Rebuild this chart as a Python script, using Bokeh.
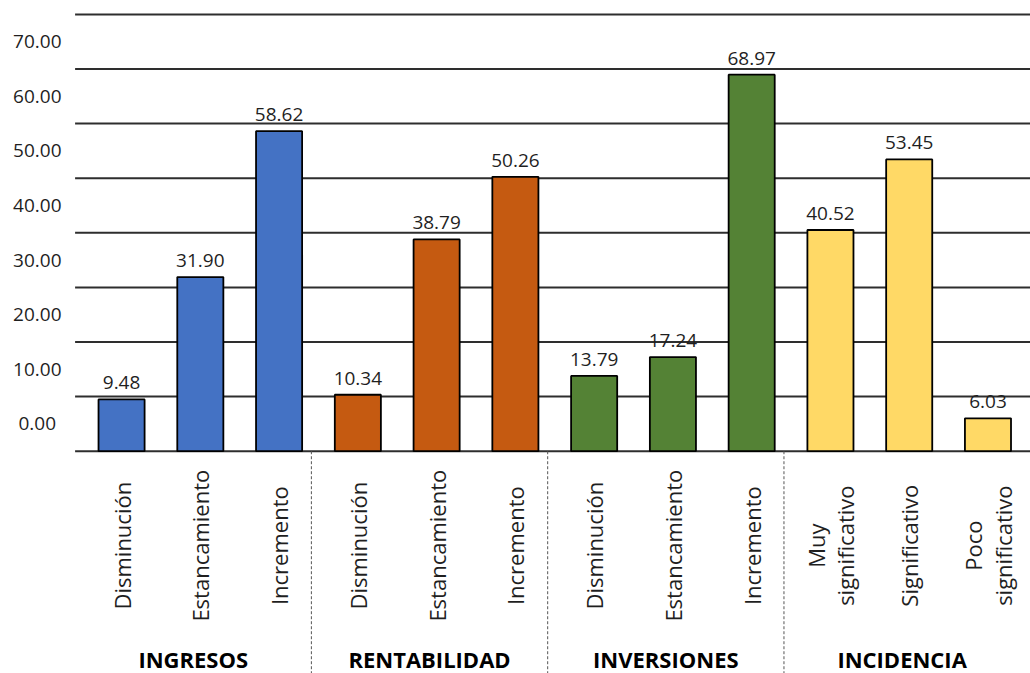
import numpy as np
from bokeh.plotting import figure
from bokeh.models import ColumnDataSource
from bokeh.core.properties import value
from bokeh.embed import file_html
from bokeh.resources import INLINE

# ---- data -------------------------------------------------------------
groups = ["INGRESOS", "RENTABILIDAD", "INVERSIONES", "INCIDENCIA"]
ingresos_cats = ["Disminución", "Estancamiento", "Incremento"]
rentabilidad_cats = ["Disminución", "Estancamiento", "Incremento"]
inversiones_cats = ["Disminución", "Estancamiento", "Incremento"]
incidencia_cats = ["Muy\nsignificativo", "Significativo", "Poco\nsignificativo"]

ingresos = [9.48, 31.90, 58.62]
rentabilidad = [10.34, 38.79, 50.26]
inversiones = [13.79, 17.24, 68.97]
incidencia = [40.52, 53.45, 6.03]

y_ticks = [0, 10, 20, 30, 40, 50, 60, 70]
grid_levels = [0, 10, 20, 30, 40, 50, 60, 70, 80]

group_colors = ["#4472C4", "#C55A11", "#548235", "#FFD966"]

# ---- styling ----------------------------------------------------------
FONT = "Open Sans"
TEXT_COLOR = "#1f1f1f"
BAR_WIDTH = 0.585
BAR_SHIFT = 0.09        # bars sit slightly right of their slot centre
TICK_SHIFT = 5          # tick labels sit between the grid lines
CAT_LABEL_Y = -17.3
GROUP_LABEL_Y = -38.0
YLABEL_X = -0.98

cats = [ingresos_cats, rentabilidad_cats, inversiones_cats, incidencia_cats]
vals = [ingresos, rentabilidad, inversiones, incidencia]

slot = np.arange(sum(len(c) for c in cats), dtype=float)
labels = [c for grp in cats for c in grp]
heights = [v for grp in vals for v in grp]
colors = [group_colors[g] for g, grp in enumerate(vals) for _ in grp]
bar_x = slot + BAR_SHIFT

sizes = np.cumsum([0] + [len(c) for c in cats])
group_centers = [(sizes[i] + sizes[i + 1] - 1) / 2 for i in range(len(groups))]
separators = [b - 0.5 for b in sizes[1:-1]]

X_START, X_END = -1.447, 11.63
Y_START, Y_END = -40.71, 82.55

p = figure(width=1030, height=673, x_range=(X_START, X_END), y_range=(Y_START, Y_END),
           output_backend="svg", toolbar_location=None, min_border=0,
           x_axis_location=None, y_axis_location=None)
p.grid.visible = False
p.outline_line_color = None
p.background_fill_color = "white"
p.border_fill_color = "white"

# horizontal grid lines
p.segment(x0=[-0.5] * len(grid_levels), x1=[X_END] * len(grid_levels),
          y0=grid_levels, y1=grid_levels, line_color="#2e2e2e", line_width=2)

# dashed group separators below the baseline
p.segment(x0=separators, x1=separators, y0=[0] * len(separators),
          y1=[Y_START] * len(separators), line_color="#555555", line_width=1,
          line_dash="3 2")

# bars
src = ColumnDataSource(dict(x=bar_x, top=heights, color=colors,
                            txt=[f"{v:.2f}" for v in heights], cat=labels))
p.vbar(x="x", top="top", bottom=0, width=BAR_WIDTH, source=src,
       fill_color="color", line_color="black", line_width=1.8)

# value labels above the bars
p.text(x="x", y="top", text="txt", source=src, text_align="center",
       text_baseline="bottom", y_offset=-10, text_font=value(FONT),
       text_font_size="19px", text_color=TEXT_COLOR)

# rotated category labels
p.text(x="x", y=CAT_LABEL_Y, text="cat", source=src, angle=np.pi / 2,
       text_align="center", text_baseline="middle", text_font=value(FONT),
       text_font_size="22px", text_color=TEXT_COLOR, text_line_height=0.97)

# group labels
p.text(x=group_centers, y=[GROUP_LABEL_Y] * len(groups), text=groups,
       text_align="center", text_baseline="middle", text_font=value(FONT),
       text_font_style="bold", text_font_size="22px", text_color="black")

# y tick labels
p.text(x=[YLABEL_X] * len(y_ticks), y=[t + TICK_SHIFT for t in y_ticks],
       text=[f"{t:.2f}" for t in y_ticks], text_align="center",
       text_baseline="middle", text_font=value(FONT), text_font_size="19px",
       text_color=TEXT_COLOR)

open("out.html", "w").write(file_html(p, INLINE))
